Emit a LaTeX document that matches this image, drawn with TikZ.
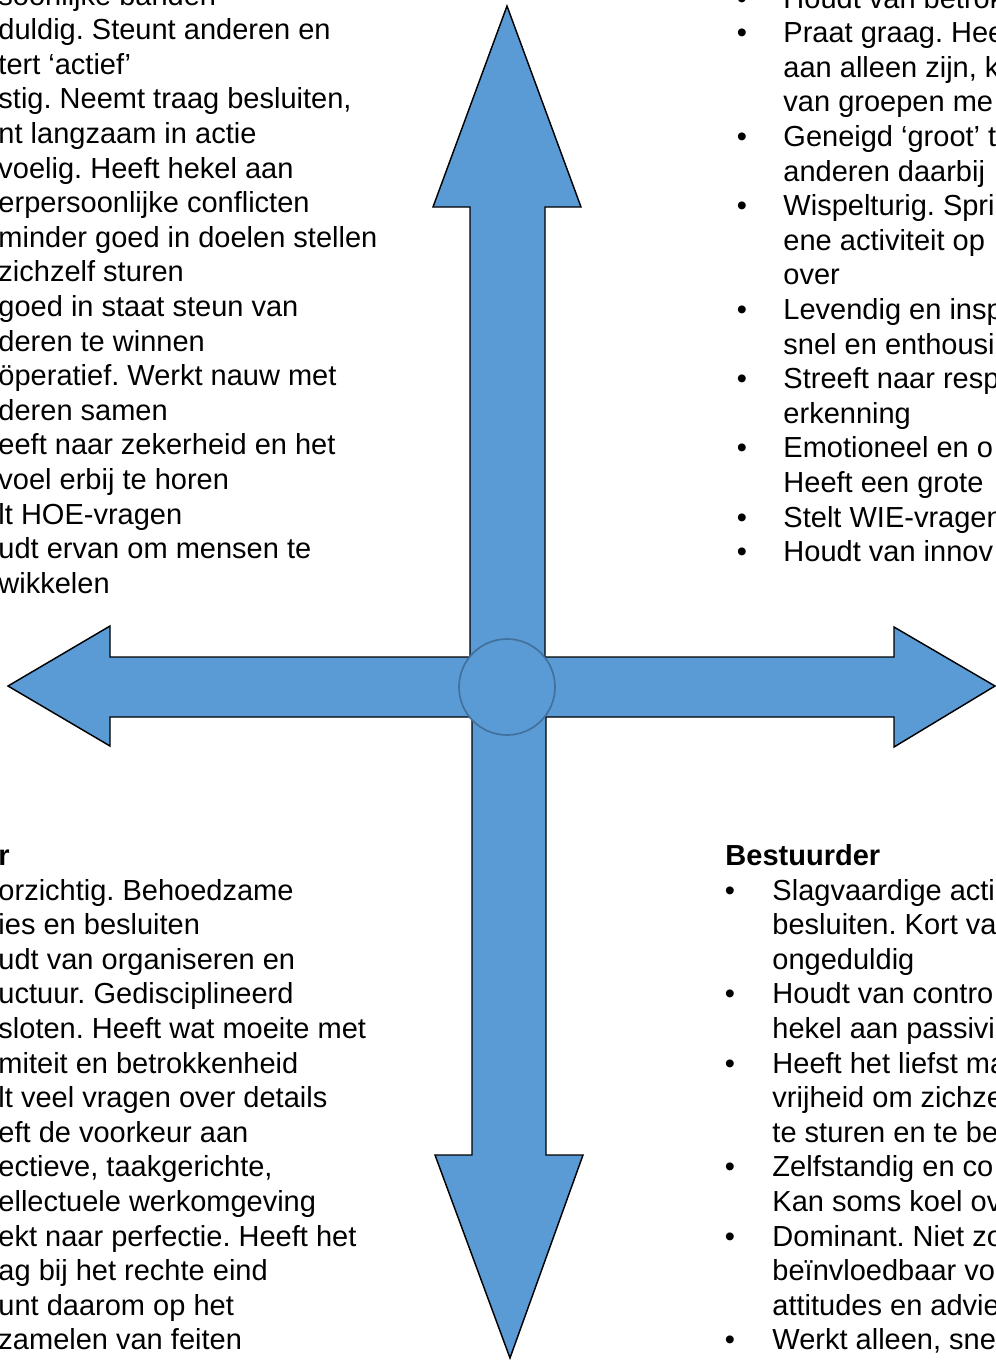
\documentclass[tikz,border=0pt]{standalone}
\usepackage{fontspec}
\setmainfont{Liberation Sans}
\frenchspacing

\definecolor{arrowblue}{HTML}{5B9BD5}
\definecolor{hubedge}{HTML}{41719C}

\tikzset{
  linetxt/.style={font=\fontsize{12}{14.3}\selectfont, anchor=base west, inner sep=0pt},
  headtxt/.style={linetxt, font=\fontsize{12}{14.3}\selectfont\bfseries},
  bullettxt/.style={linetxt, anchor=base},
}

\begin{document}
\begin{tikzpicture}[x=0.01454cm, y=-0.01454cm]
            \useasboundingbox (0,0) rectangle (995,1360);

            % Cross of arrows
            \draw[fill=arrowblue, line width=0.6pt, line join=miter]
              (507,6) -- (581,207) -- (545,207) -- (545,657) -- (894,657) -- (894,627)
              -- (995,686) -- (894,747) -- (894,717) -- (546,717) -- (546,1155)
              -- (583,1155) -- (510,1358) -- (435,1155) -- (472,1155) -- (472,717)
              -- (110,717) -- (110,746) -- (8,686) -- (110,626) -- (110,657)
              -- (470,657) -- (470,207) -- (433,207) -- cycle;

            % Centre circle
            \node[circle, minimum size=1.396cm, inner sep=0pt, fill=arrowblue, draw=hubedge, line width=0.7pt] (hub) at (507,687) {};

            % Top left
            \foreach \txt [count=\i from 0] in {{soonlijke banden}, {duldig. Steunt anderen en}, {tert ‘actief’},
                {stig. Neemt traag besluiten,}, {nt langzaam in actie}, {voelig. Heeft hekel aan},
                {erpersoonlijke conflicten}, {minder goed in doelen stellen}, {zichzelf sturen},
                {goed in staat steun van}, {deren te winnen}, {öperatief. Werkt nauw met},
                {deren samen}, {eeft naar zekerheid en het}, {voel erbij te horen},
                {lt HOE-vragen}, {udt ervan om mensen te}, {wikkelen}}
              \node[linetxt] (tl-\i) at (-2,5+34.6*\i) {\txt};

            % Top right
            \foreach \txt [count=\i from 0] in {{Houdt van betrok}, {Praat graag. Hee}, {aan alleen zijn, k},
                {van groepen me}, {Geneigd ‘groot’ t}, {anderen daarbij}, {Wispelturig. Spri},
                {ene activiteit op}, {over}, {Levendig en insp}, {snel en enthousi},
                {Streeft naar resp}, {erkenning}, {Emotioneel en o}, {Heeft een grote},
                {Stelt WIE-vragen}, {Houdt van innov}}
              \node[linetxt] (tr-\i) at (783,8+34.6*\i) {\txt};
            \foreach \i in {0,1,4,6,9,11,13,15,16}
              \node[bullettxt] (trb-\i) at (742,8+34.6*\i) {\textbullet};

            % Bottom left
            \node[headtxt] (blhead) at (-2,865) {r};
            \foreach \txt [count=\i from 0] in {{orzichtig. Behoedzame}, {ies en besluiten},
                {udt van organiseren en}, {uctuur. Gedisciplineerd}, {sloten. Heeft wat moeite met},
                {miteit en betrokkenheid}, {lt veel vragen over details}, {eft de voorkeur aan},
                {ectieve, taakgerichte,}, {ellectuele werkomgeving}, {ekt naar perfectie. Heeft het},
                {ag bij het rechte eind}, {unt daarom op het}, {zamelen van feiten}}
              \node[linetxt] (bl-\i) at (-2,900+34.6*\i) {\txt};

            % Bottom right
            \node[headtxt] (brhead) at (725,865) {Bestuurder};
            \foreach \txt [count=\i from 0] in {{Slagvaardige acti}, {besluiten. Kort va}, {ongeduldig},
                {Houdt van contro}, {hekel aan passivi}, {Heeft het liefst ma}, {vrijheid om zichze},
                {te sturen en te be}, {Zelfstandig en co}, {Kan soms koel ov}, {Dominant. Niet zo},
                {beïnvloedbaar vo}, {attitudes en advie}, {Werkt alleen, sne}}
              \node[linetxt] (br-\i) at (772,900+34.6*\i) {\txt};
            \foreach \i in {0,3,5,8,10,13}
              \node[bullettxt] (brb-\i) at (730,900+34.6*\i) {\textbullet};
        \end{tikzpicture}
\end{document}
